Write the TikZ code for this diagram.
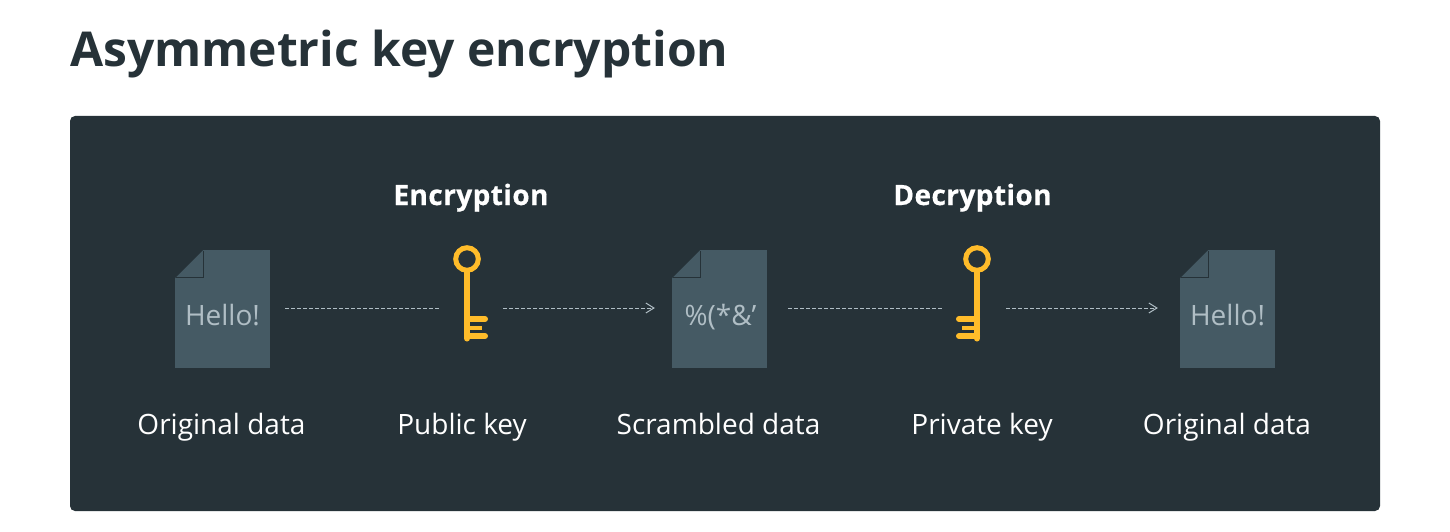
\documentclass[tikz,border=0pt]{standalone}
\usepackage{fontspec}
\setmainfont{Open Sans}
\newfontfamily\stagefont[BoldFeatures={FakeBold=0.5,LetterSpace=1.5}]{Open Sans}
\usetikzlibrary{arrows.meta}
\definecolor{panelcol}{HTML}{263238}
\definecolor{doccol}{HTML}{455A64}
\definecolor{hellocol}{HTML}{B0BEC5}
\definecolor{keycol}{HTML}{FFBC2A}
\tikzset{
  docbox/.style={fill=doccol,minimum width=95pt,minimum height=118pt,inner sep=0pt},
  doctext/.style={anchor=base,text=hellocol,font=\fontsize{28}{32}\selectfont,inner sep=0pt},
  caption/.style={anchor=base,text=white,font=\fontsize{28}{32}\selectfont,inner sep=0pt},
  stage/.style={anchor=base,text=white,font=\fontsize{28}{32}\stagefont\bfseries,inner sep=0pt},
  keyspot/.style={inner sep=0pt,minimum size=0pt},
  flow/.style={hellocol,line width=1pt,dash pattern=on 4pt off 2pt},
  flowarrow/.style={flow,-{Straight Barb[length=8pt,width=10pt,line width=1pt]}},
  docfold/.pic={
    \fill[panelcol] (0,0)--(28.5,0)--(0,28.5)--cycle;
    \fill[doccol] (1.5,28)--(28.5,1)--(28.5,28)--cycle;
    \draw[panelcol,line width=1pt] (28.5,1)--(28.5,28)--(1.5,28);
  },
  keypic/.pic={
    \draw[keycol,line width=5pt] (0,-49) circle (11.3);
    \draw[keycol,line width=6pt,line cap=round] (0,-36)--(0,30.5);
    \draw[keycol,line width=6pt,line cap=round] (0,11)--(18,11);
    \draw[keycol,line width=4pt] (0,19.5)--(14.7,19.5);
    \draw[keycol,line width=6pt,line cap=round] (0,28)--(18,28);
  }
}
\begin{document}
\begin{tikzpicture}[x=1pt,y=-1pt]
  \useasboundingbox (0,0) rectangle (1450,532);
  \fill[white] (0,0) rectangle (1450,532);

  \node[anchor=base west,inner sep=0pt,text=panelcol,font=\fontsize{48}{54}\selectfont\bfseries] (title) at (70,67) {Asymmetric key encryption};

  \fill[panelcol,rounded corners=5pt] (70,116) rectangle (1380,511);

  \node[stage] (encrypt) at (471,205) {Encryption};
  \node[stage] (decrypt) at (972.5,205) {Decryption};

  % the three pages
  \node[docbox] (docA) at (222.5,309) {};
  \node[docbox] (docB) at (719.5,309) {};
  \node[docbox] (docC) at (1227.5,309) {};
  \pic at (docA.north west) {docfold};
  \pic at (docB.north west) {docfold};
  \pic at (docC.north west) {docfold};

  \node[doctext] (helloA) at (222.5,325) {Hello!};
  \node[doctext] (scrambled) at (720.5,325) {\%(*\&’};
  \node[doctext] (helloC) at (1227.5,325) {Hello!};

  % the two keys
  \node[keyspot] (keyA) at (467,308) {};
  \node[keyspot] (keyB) at (977,308) {};
  \pic at (keyA) {keypic};
  \pic[xscale=-1] at (keyB) {keypic};

  \draw[flow,shorten <=15pt,shorten >=28pt] (docA.east |- keyA) -- (keyA);
  \draw[flowarrow,shorten <=36pt,shorten >=17pt] (keyA) -- (docB.west |- keyA);
  \draw[flow,shorten <=21pt,shorten >=35pt] (docB.east |- keyB) -- (keyB);
  \draw[flowarrow,shorten <=29pt,shorten >=22pt] (keyB) -- (docC.west |- keyB);

  \node[caption] (capA) at (221.5,434) {Original data};
  \node[caption] (capB) at (462,434) {Public key};
  \node[caption] (capC) at (718.5,434) {Scrambled data};
  \node[caption] (capD) at (982,434) {Private key};
  \node[caption] (capE) at (1227,434) {Original data};
\end{tikzpicture}
\end{document}
